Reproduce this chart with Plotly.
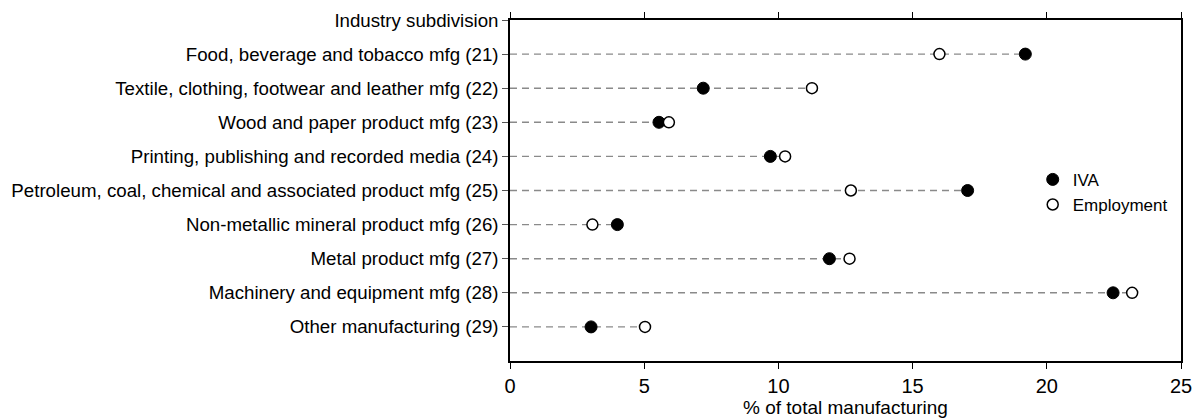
import plotly.graph_objects as go

header = "Industry subdivision"
categories = [
    "Food, beverage and tobacco mfg (21)",
    "Textile, clothing, footwear and leather mfg (22)",
    "Wood and paper product mfg (23)",
    "Printing, publishing and recorded media (24)",
    "Petroleum, coal, chemical and associated product mfg (25)",
    "Non-metallic mineral product mfg (26)",
    "Metal product mfg (27)",
    "Machinery and equipment mfg (28)",
    "Other manufacturing (29)",
]
iva = [19.2, 7.2, 5.55, 9.7, 17.05, 4.0, 11.9, 22.47, 3.02]
employment = [16.0, 11.25, 5.92, 10.25, 12.7, 3.07, 12.65, 23.18, 5.03]
x_ticks = [0, 5, 10, 15, 20, 25]

ypos = list(range(1, len(categories) + 1))

# dashed guide lines from 0 to the larger of the two values
lx, ly = [], []
for y, a, b in zip(ypos, iva, employment):
    lx += [0, max(a, b), None]
    ly += [y, y, None]

fig = go.Figure()
fig.add_trace(go.Scatter(
    x=lx, y=ly, mode="lines",
    line=dict(color="#8a8a8a", width=1.4, dash="7px,5px"),
    showlegend=False, hoverinfo="skip"))
fig.add_trace(go.Scatter(
    x=iva, y=ypos, mode="markers", name="IVA",
    marker=dict(symbol="circle", size=12, color="black",
                line=dict(color="black", width=1))))
fig.add_trace(go.Scatter(
    x=employment, y=ypos, mode="markers", name="Employment",
    marker=dict(symbol="circle", size=11, color="white",
                line=dict(color="black", width=1.5))))

font_family = "Liberation Sans, Arial, sans-serif"

fig.update_layout(
    width=1197, height=418,
    margin=dict(l=510, r=16, t=20, b=57, autoexpand=False),
    paper_bgcolor="white", plot_bgcolor="white",
    font=dict(family=font_family, size=17, color="black"),
    legend=dict(x=0.779, y=0.584, xanchor="left", yanchor="top",
                bgcolor="rgba(0,0,0,0)", borderwidth=0,
                font=dict(size=17), itemwidth=30, tracegroupgap=0),
    xaxis=dict(
        range=[0, 25], tickvals=x_ticks, ticktext=[str(v) for v in x_ticks],
        showgrid=False, zeroline=False, automargin=False,
        showline=True, linecolor="black", linewidth=1.5, mirror="ticks",
        ticks="outside", ticklen=6, tickwidth=1.2, tickcolor="black",
        tickfont=dict(size=20),
        title=dict(text="% of total manufacturing", font=dict(size=19), standoff=2),
    ),
    yaxis=dict(
        range=[10, 0], tickvals=[0] + ypos, ticktext=[header] + categories,
        showgrid=False, zeroline=False, automargin=False,
        showline=True, linecolor="black", linewidth=1.5, mirror=True,
        ticks="outside", ticklen=6, tickwidth=1, tickcolor="#555555",
        tickfont=dict(size=18.7),
    ),
)

fig.write_html(
    "out.html",
    config={"displayModeBar": False},
    post_script="document.body.style.margin='0';document.body.style.overflow='hidden';",
)
